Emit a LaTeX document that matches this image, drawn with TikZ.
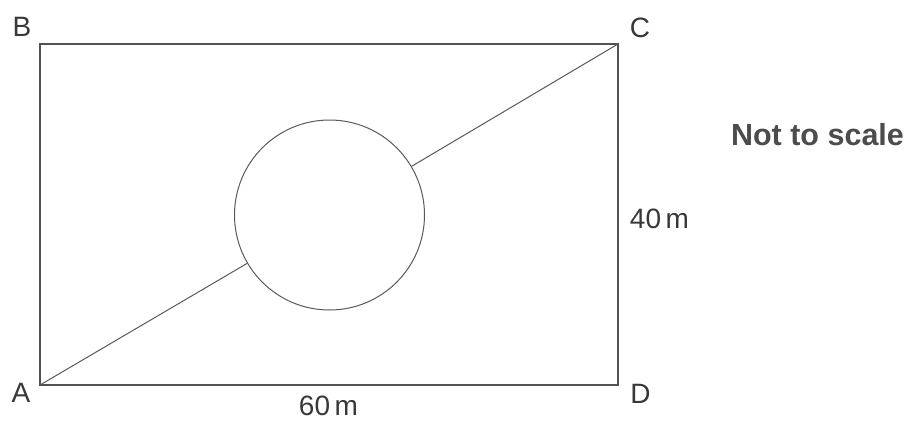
\documentclass[tikz,border=0pt]{standalone}
\usepackage{fontspec}
\setmainfont{Liberation Sans}
\begin{document}
\begin{tikzpicture}[x=1pt,y=-1pt,
  edge/.style={draw=black!68,line width=1.3pt},
  thin edge/.style={draw=black!65,line width=1pt},
  lbl/.style={inner sep=0pt,anchor=base,text=black!78,font=\fontsize{28}{30}\selectfont},
  note/.style={inner sep=0pt,anchor=base,text=black!70,font=\fontsize{30.5}{32}\selectfont\bfseries}]
\useasboundingbox (0,0) rectangle (911,421);
\coordinate (A) at (40,385);
\coordinate (B) at (40,44);
\coordinate (C) at (618,44);
\coordinate (D) at (618,385);
\node[circle,minimum size=190pt,inner sep=0pt,thin edge] (O) at (329.5,215) {};
\draw[edge] (A) -- (B) -- (C) -- (D) -- cycle;
\draw[thin edge] (A) -- (O);
\draw[thin edge] (O) -- (C);
\node[lbl] (lB) at (22,36) {B};
\node[lbl] (lC) at (640,37) {C};
\node[lbl] (lA) at (21,402) {A};
\node[lbl] (lD) at (640.5,403) {D};
\node[lbl] (l60) at (328.5,415) {60\,m};
\node[lbl] (l40) at (659.5,228) {40\,m};
\node[note] (nts) at (817.5,145) {Not to scale};
\end{tikzpicture}
\end{document}
